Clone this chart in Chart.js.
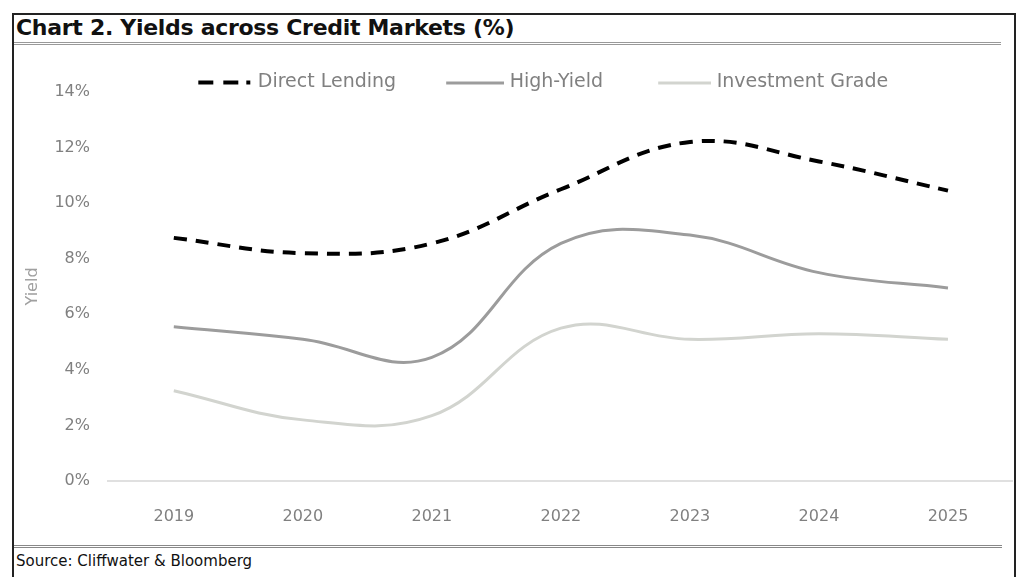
<!DOCTYPE html>
<html lang="en">
  <head>
    <meta charset="UTF-8" />
    <title>Chart 2. Yields across Credit Markets</title>
    <script src="https://cdn.jsdelivr.net/npm/chart.js"></script>
    <style>
      body { margin: 0; background: #fff; width: 1029px; height: 577px; overflow: hidden; position: relative; font-family: "DejaVu Sans", sans-serif; }
      #frame { position: absolute; left: 12px; top: 13px; width: 1004px; height: 600px; border: 2px solid #222; box-sizing: border-box; }
      #title { position: absolute; left: 16px; top: 15px; font-size: 22px; line-height: 26px; font-weight: bold; color: #111; letter-spacing: -0.3px; }
      #rule1 { position: absolute; left: 14px; top: 42px; width: 987px; height: 0; border-top: 3px double #999; }
      #rule2 { position: absolute; left: 14px; top: 545px; width: 988px; height: 0; border-top: 3px double #888; }
      #source { position: absolute; left: 16px; top: 552px; font-size: 15px; line-height: 18px; color: #111; }
      #wrap { position: absolute; left: 14px; top: 46px; width: 1000px; height: 500px; }
    </style>
  </head>
  <body>
    <div id="frame"></div>
    <div id="title">Chart 2. Yields across Credit Markets (%)</div>
    <div id="rule1"></div>
    <div id="wrap"><canvas id="myChart"></canvas></div>
    <div id="rule2"></div>
    <div id="source">Source: Cliffwater &amp; Bloomberg</div>

    <script>
      // data
      const years = [2019, 2020, 2021, 2022, 2023, 2024, 2025];
      const directLending = [8.75, 8.2, 8.55, 10.5, 12.2, 11.5, 10.45];
      const highYield = [5.55, 5.1, 4.45, 8.55, 8.85, 7.5, 6.95];
      const investmentGrade = [3.25, 2.2, 2.35, 5.5, 5.1, 5.3, 5.1];
      const yTicks = [0, 2, 4, 6, 8, 10, 12, 14];

      function pts(values) {
        return years.map(function (yr, i) {
          return { x: yr, y: values[i] };
        });
      }

      const grey = "#808080";
      const dlColor = "#000";
      const hyColor = "#9c9c9c";
      const igColor = "#d2d4cf";

      // legend glyphs: right aligned, the blank left part works as the gap between items
      const legendW = 102;
      const glyphW = legendW + 8;
      function glyph(draw) {
        const c = document.createElement("canvas");
        c.width = glyphW;
        c.height = 8;
        draw(c.getContext("2d"));
        return c;
      }
      const dlGlyph = glyph(function (g) {
        g.fillStyle = dlColor;
        g.fillRect(glyphW - 54, 2, 15, 4);
        g.fillRect(glyphW - 29, 2, 15, 4);
        g.fillRect(glyphW - 6, 2, 4, 4);
      });
      const hyGlyph = glyph(function (g) {
        g.fillStyle = hyColor;
        g.fillRect(glyphW - 58, 3, 58, 3);
      });
      const igGlyph = glyph(function (g) {
        g.fillStyle = igColor;
        g.fillRect(glyphW - 53, 3, 53, 3);
      });

      // legend sits partly over the plot like in Excel: trim its reserved height
      const legendTrim = {
        id: "legendTrim",
        beforeLayout: function (chart) {
          const lg = chart.legend;
          if (lg && !lg._trimmed) {
            const fit = lg.fit;
            lg.fit = function () {
              fit.call(this);
              this.height -= 10;
            };
            lg._trimmed = true;
          }
        }
      };

      const config = {
        type: "line",
        data: {
          datasets: [
            {
              label: "Direct Lending",
              data: pts(directLending),
              borderColor: dlColor,
              backgroundColor: dlColor,
              borderWidth: 4,
              borderDash: [13, 9],
              pointRadius: 0,
              pointStyle: dlGlyph,
              tension: 0.4
            },
            {
              label: "High-Yield",
              data: pts(highYield),
              borderColor: hyColor,
              backgroundColor: hyColor,
              borderWidth: 3,
              pointRadius: 0,
              pointStyle: hyGlyph,
              tension: 0.4
            },
            {
              label: "Investment Grade",
              data: pts(investmentGrade),
              borderColor: igColor,
              backgroundColor: igColor,
              borderWidth: 3,
              pointRadius: 0,
              pointStyle: igGlyph,
              tension: 0.4
            }
          ]
        },
        options: {
          responsive: false,
          animation: false,
          layout: { padding: { top: 25, right: 1.5, left: 8, bottom: 0 } },
          plugins: {
            tooltip: { enabled: false },
            legend: {
              position: "top",
              labels: {
                usePointStyle: true,
                pointStyleWidth: legendW,
                padding: 2,
                color: grey,
                font: { family: "DejaVu Sans", size: 19 }
              }
            }
          },
          scales: {
            x: {
              type: "linear",
              min: 2018.49,
              max: 2025.5,
              afterBuildTicks: function (scale) {
                scale.ticks = years.map(function (v) { return { value: v }; });
              },
              afterFit: function (scale) { scale.height = 65; },
              grid: { display: false, drawTicks: false },
              border: { display: true, color: "#e0e0e0", width: 2 },
              ticks: {
                padding: 26,
                color: grey,
                font: { family: "DejaVu Sans", size: 16 },
                callback: function (v) { return String(v); }
              }
            },
            y: {
              min: 0,
              max: 14,
              afterBuildTicks: function (scale) {
                scale.ticks = yTicks.map(function (v) { return { value: v }; });
              },
              afterFit: function (scale) { scale.width = 86; },
              grid: { display: false, drawTicks: false },
              border: { display: false },
              title: {
                display: true,
                text: "Yield",
                color: "#a0a0a0",
                font: { family: "DejaVu Sans", size: 16 },
                padding: { top: 1, bottom: 0 }
              },
              ticks: {
                padding: 18,
                color: grey,
                font: { family: "DejaVu Sans", size: 16 },
                callback: function (v) { return v + "%"; }
              }
            }
          }
        },
        plugins: [legendTrim]
      };

      const canvas = document.getElementById("myChart");
      canvas.width = 1000;
      canvas.height = 500;
      const myChart = new Chart(canvas, config);
    </script>
  </body>
</html>
